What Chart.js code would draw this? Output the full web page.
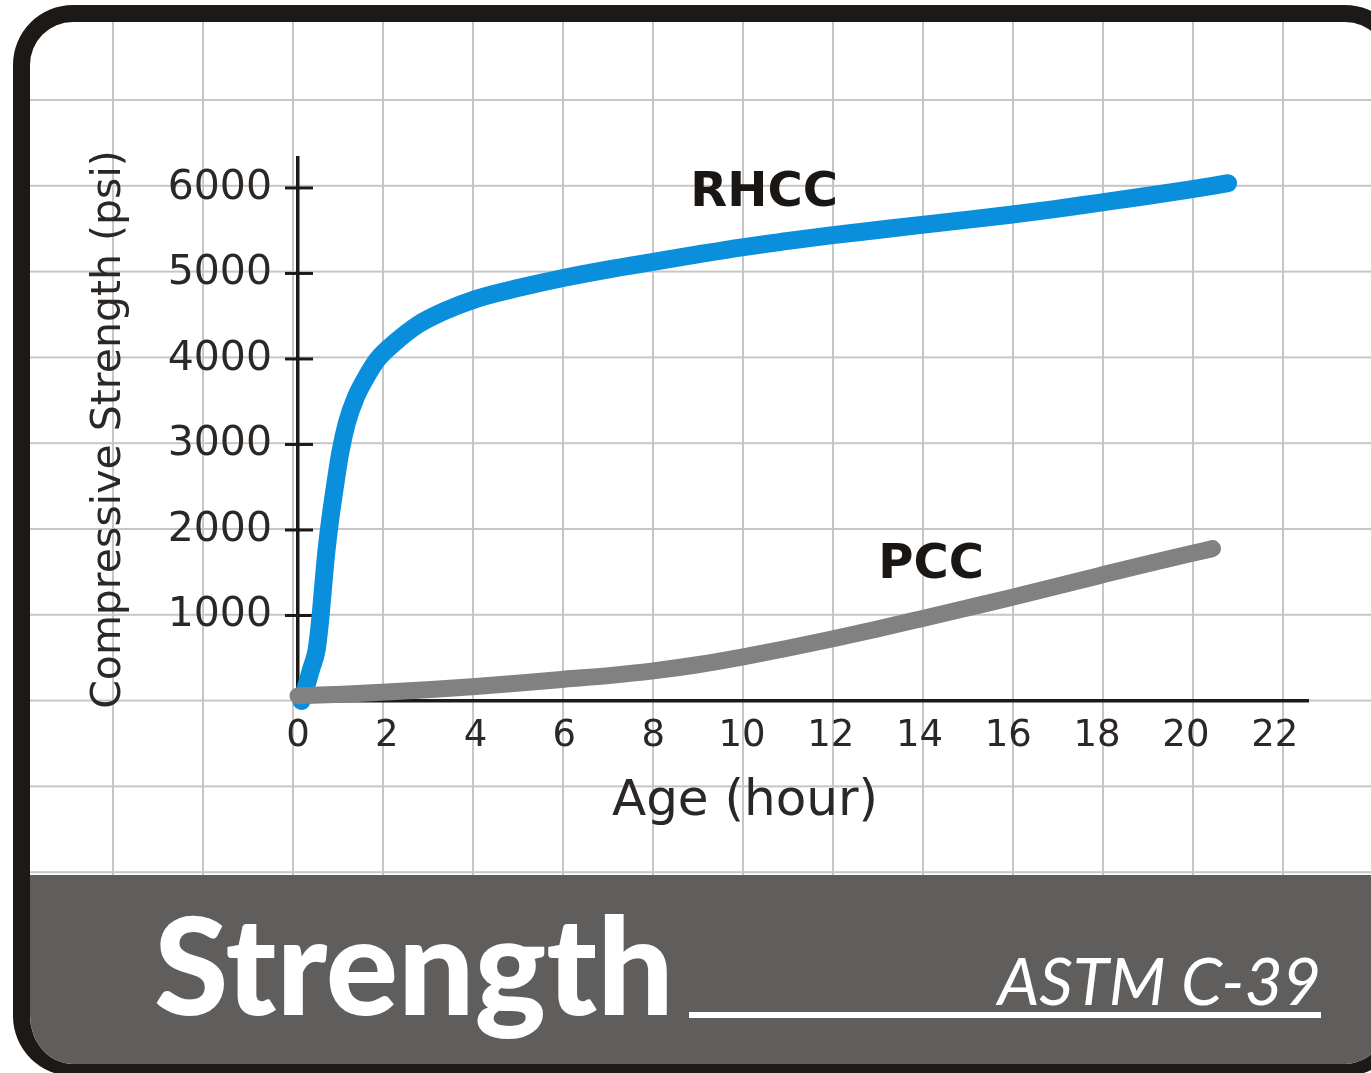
<!DOCTYPE html>
<html lang="en">
<head>
<meta charset="UTF-8">
<title>Strength - ASTM C-39</title>
<script src="https://cdn.jsdelivr.net/npm/chart.js"></script>
<style>
  html, body { margin: 0; padding: 0; width: 1371px; height: 1073px; overflow: hidden; background: #fff; }
  .frame {
    position: absolute; left: 13px; top: 5px; width: 1392px; height: 1071px;
    box-sizing: border-box; border: 17px solid #1d1917; border-bottom-width: 12px;
    border-radius: 60px; overflow: hidden; background-color: #fff;
    background-image:
      linear-gradient(to right, #c6c6c6 0, #c6c6c6 2px, transparent 2px),
      linear-gradient(to bottom, #c6c6c6 0, #c6c6c6 2px, transparent 2px);
    background-size: 90px 100%, 100% 85.8px;
    background-position: 82px 0, 0 77px;
  }
  .band { position: absolute; left: 0; right: 0; top: 853px; bottom: 0; background: #605e5c; }
  .big {
    position: absolute; left: 154px; top: 896px; margin: 0;
    font: 900 135px/1 Lato, sans-serif; color: #fff; z-index: 2; white-space: nowrap;
  }
  .std {
    position: absolute; right: 50px; top: 947px;
    font: italic 400 66px/1 Lato, sans-serif; color: #fff; z-index: 2; white-space: nowrap;
  }
  .rule { position: absolute; left: 689px; top: 1012px; width: 632px; height: 6px; background: #fff; z-index: 2; }
  #chartContainer { position: absolute; left: 0; top: 0; width: 1371px; height: 1073px; z-index: 3; }
</style>
</head>
<body>
<div class="frame"><div class="band"></div></div>
<div class="big">Strength</div>
<div class="std">ASTM C-39</div>
<div class="rule"></div>
<div id="chartContainer"><canvas id="myChart"></canvas></div>
<script>
// RHCC - rapid hardening cement concrete
const rhccHours = [0.08, 0.2, 0.3, 0.42, 0.5, 0.56, 0.63, 0.72, 0.83, 0.95,
                   1.1, 1.3, 1.55, 1.8, 2.2, 2.7, 3.3, 4, 5, 6,
                   7, 8, 9, 10, 11, 12, 13, 14, 15, 16,
                   17, 18, 19, 20, 20.95];
const rhccPsi = [0, 200, 380, 600, 950, 1300, 1700, 2100, 2500, 2900,
                 3250, 3550, 3800, 4000, 4200, 4400, 4560, 4700, 4835, 4950,
                 5048, 5135, 5222, 5305, 5377, 5445, 5505, 5565, 5623, 5683,
                 5750, 5823, 5897, 5975, 6055];

// PCC - portland cement concrete
const pccHours = [0, 1, 2, 3, 4, 5, 6, 7, 8, 9, 10, 11, 12, 13, 14, 15, 16, 17, 18, 19, 20, 20.6];
const pccPsi = [60, 80, 105, 135, 170, 210, 255, 297, 352, 424, 514, 614, 722, 837, 957, 1079, 1202, 1330, 1460, 1588, 1710, 1782];

const xTicks = [0, 2, 4, 6, 8, 10, 12, 14, 16, 18, 20, 22];
const yTicks = [0, 1000, 2000, 3000, 4000, 5000, 6000];

// series names written on the plot, and where they sit (hour, psi)
const seriesNames = ['RHCC', 'PCC'];
const nameHours = [10.5, 14.26];
const namePsi = [5930, 1590];

const xTitle = 'Age (hour)';
const yTitle = 'Compressive Strength (psi)';

const ink = '#1d1917';
const textCol = '#2b2725';

Chart.defaults.font.family = "'DejaVu Sans', sans-serif";

function toPoints(xs, ys) {
    return xs.map((x, i) => ({ x: x, y: ys[i] }));
}

// the crossing tick marks on the y axis
const crossTicks = {
    id: 'crossTicks',
    beforeDatasetsDraw(chart) {
        const { ctx, scales: { y } } = chart;
        ctx.save();
        ctx.strokeStyle = ink;
        ctx.lineWidth = 3;
        y.ticks.forEach(t => {
            if (t.value === 0) return;
            const py = y.getPixelForValue(t.value);
            ctx.beginPath();
            ctx.moveTo(y.right - 13, py);
            ctx.lineTo(y.right + 15, py);
            ctx.stroke();
        });
        ctx.restore();
    }
};

// series names + x axis title
const textBits = {
    id: 'textBits',
    afterDraw(chart) {
        const { ctx, chartArea, scales: { x, y } } = chart;
        ctx.save();
        ctx.fillStyle = '#1a1614';
        ctx.font = "bold 48px 'DejaVu Sans'";
        ctx.textAlign = 'center';
        ctx.textBaseline = 'middle';
        seriesNames.forEach((name, i) => {
            ctx.fillText(name, x.getPixelForValue(nameHours[i]), y.getPixelForValue(namePsi[i]));
        });
        ctx.fillStyle = textCol;
        ctx.font = "50px 'DejaVu Sans'";
        ctx.textBaseline = 'alphabetic';
        ctx.fillText(xTitle, (chartArea.left + chartArea.right) / 2 - 58, chartArea.bottom + 114);
        ctx.restore();
    }
};

const ctx = document.getElementById('myChart').getContext('2d');
new Chart(ctx, {
    type: 'line',
    data: {
        datasets: [
            {
                label: seriesNames[0],
                data: toPoints(rhccHours, rhccPsi),
                borderColor: '#0a8fdc',
                borderWidth: 18,
                order: 1
            },
            {
                label: seriesNames[1],
                data: toPoints(pccHours, pccPsi),
                borderColor: '#818181',
                borderWidth: 17,
                order: 0
            }
        ]
    },
    options: {
        responsive: true,
        maintainAspectRatio: false,
        animation: false,
        devicePixelRatio: 1,
        layout: { padding: { left: 80, top: 158, right: 63, bottom: 0 } },
        plugins: {
            legend: { display: false },
            tooltip: { enabled: false }
        },
        elements: {
            point: { radius: 0 },
            line: {
                cubicInterpolationMode: 'monotone',
                borderCapStyle: 'round',
                borderJoinStyle: 'round',
                fill: false
            }
        },
        datasets: { line: { clip: false } },
        scales: {
            x: {
                type: 'linear',
                min: 0,
                max: 22.75,
                afterBuildTicks: s => { s.ticks = xTicks.map(v => ({ value: v })); },
                afterFit: s => { s.height = 372; },
                grid: { display: false, drawTicks: false },
                border: { display: true, color: ink, width: 3.5 },
                ticks: {
                    padding: 13,
                    color: textCol,
                    font: { size: 37 },
                    autoSkip: false,
                    maxRotation: 0
                }
            },
            y: {
                min: 0,
                max: 6350,
                afterBuildTicks: s => { s.ticks = yTicks.map(v => ({ value: v })); },
                afterFit: s => { s.width = 218; },
                grid: { display: false, drawTicks: false },
                border: { display: true, color: ink, width: 3.5 },
                ticks: {
                    padding: 26,
                    color: textCol,
                    font: { size: 41 },
                    callback: v => v === 0 ? '' : v
                },
                title: {
                    display: true,
                    text: yTitle,
                    color: textCol,
                    font: { size: 41 },
                    padding: { top: 5, bottom: 0 }
                }
            }
        }
    },
    plugins: [crossTicks, textBits]
});
</script>
</body>
</html>
